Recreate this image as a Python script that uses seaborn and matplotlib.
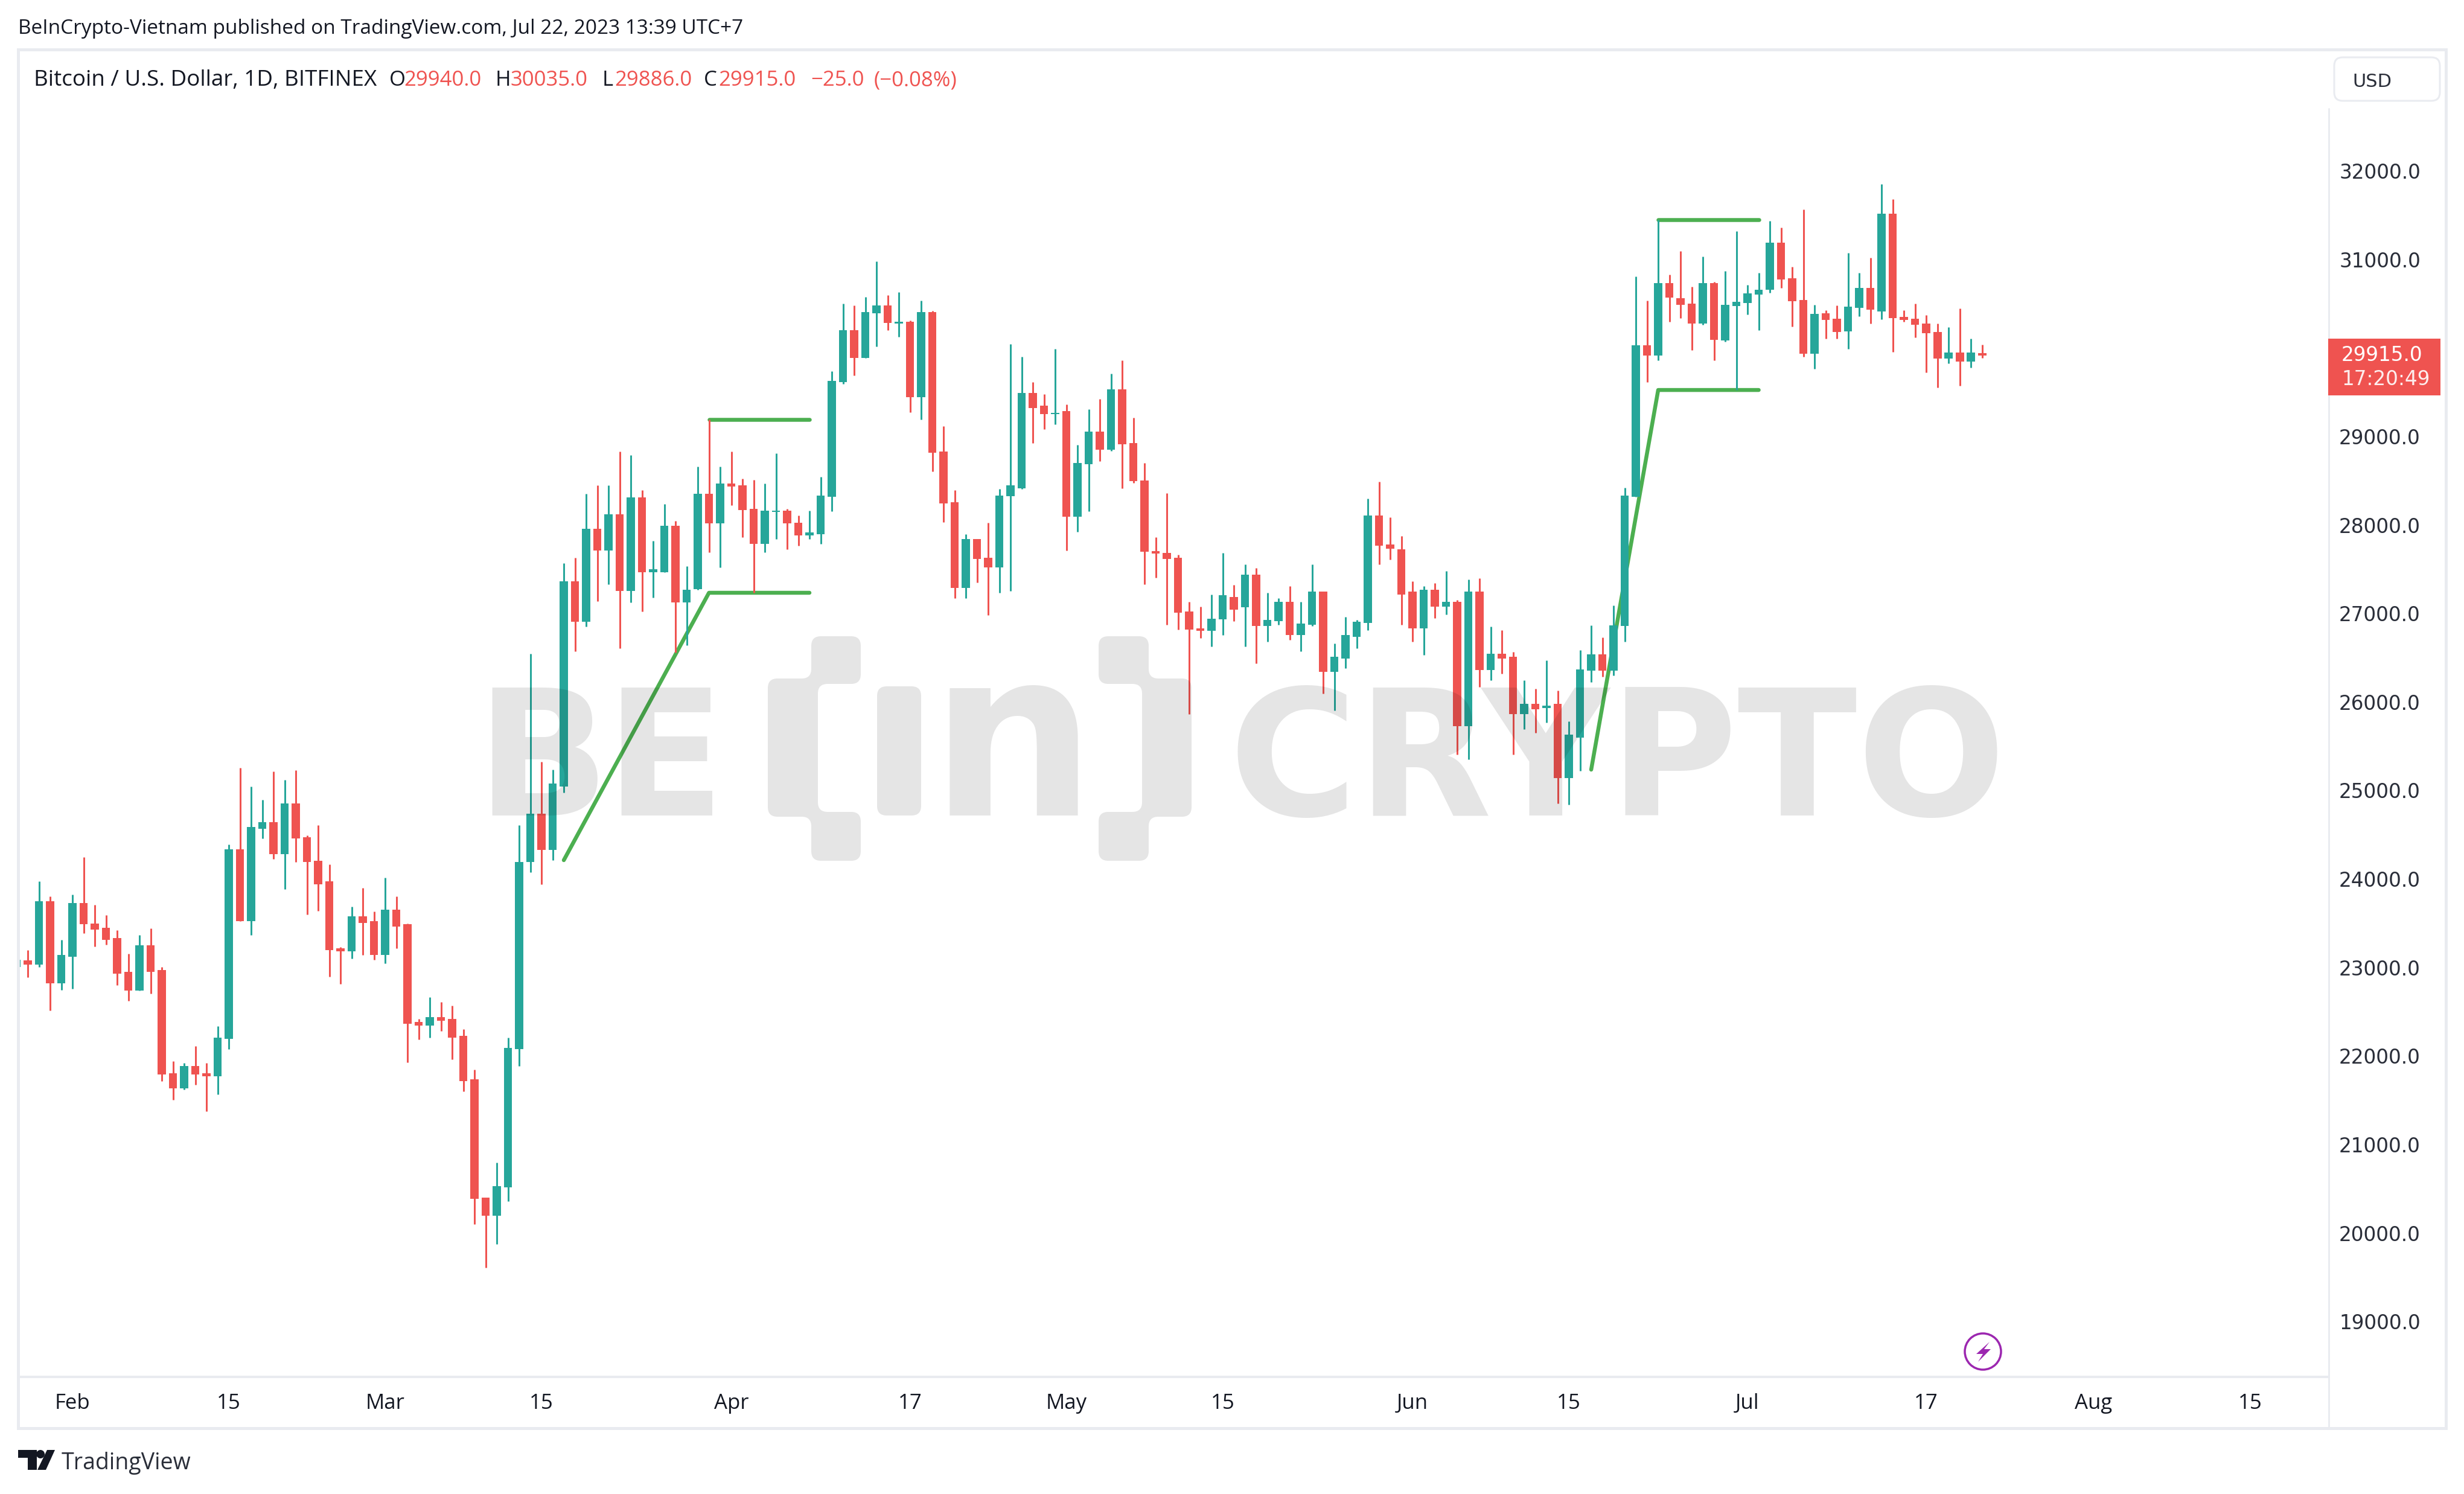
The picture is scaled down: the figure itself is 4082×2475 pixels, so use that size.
"""BTC/USD daily candles, TradingView layout, with the two pattern lines."""

import numpy as np
import pandas as pd
import matplotlib
matplotlib.use("Agg")
import matplotlib.pyplot as plt
from matplotlib.patches import Circle, FancyBboxPatch, PathPatch, Polygon, Rectangle
from matplotlib.path import Path
from matplotlib.transforms import Affine2D
import seaborn as sns

# ---------------------------------------------------------------------------
# Data
# ---------------------------------------------------------------------------

FIRST_DAY = "2023-01-27"

opens = [
    23007, 23081, 23029, 23747, 22820, 23120, 23725, 23499, 23446, 23329, 22951, 22742, 23251, 22968, 21807, 21637,
    21885, 21807, 21772, 22194, 24338, 23521, 24569, 24643, 24282, 24852, 24473, 24203, 23973, 23216, 23181, 23577,
    23521, 23142, 23651, 23486, 22381, 22346, 22437, 22416, 22229, 21733, 20402, 20193, 20515, 22076, 24190, 24738,
    24328, 25047, 27365, 26909, 27953, 27709, 28122, 27252, 28314, 27465, 27465, 27987, 27122, 27274, 28353, 28014,
    28466, 28448, 28179, 27783, 28144, 28161, 28027, 27879, 27896, 28318, 29610, 30197, 29884, 30393, 30480, 30275,
    30293, 29440, 30406, 28827, 28257, 27291, 27840, 27631, 27518, 28322, 28414, 29492, 29345, 29252, 29283, 28093,
    28684, 29052, 28848, 29530, 28923, 28504, 27705, 27686, 27627, 27020, 26832, 26801, 26930, 27188, 27067, 27439,
    26856, 26910, 27134, 26758, 26871, 27247, 26339, 26492, 26738, 26891, 28104, 27780, 27725, 27247, 26832, 27267,
    27079, 27134, 25728, 27247, 26358, 26546, 26507, 25861, 25975, 25932, 25975, 25138, 25597, 26353, 26535, 26353,
    26856, 28320, 30029, 29914, 30733, 30560, 30503, 30278, 30733, 30086, 30474, 30508, 30603, 30656, 31187, 30785,
    30541, 29933, 30393, 30331, 30187, 30450, 30675, 30412, 31513, 30350, 30331, 30278, 30177, 29881, 29948, 29842,
    29940,
]
highs = [
    23090, 23194, 23973, 23803, 23312, 23821, 24243, 23708, 23594, 23420, 23155, 23364, 23442, 23003, 21941, 21920,
    22111, 21920, 22337, 24390, 25252, 25043, 24891, 25213, 25117, 25230, 24491, 24604, 24164, 23233, 23690, 23899,
    23634, 24012, 23803, 23499, 22416, 22664, 22607, 22568, 22303, 21846, 20402, 20797, 22207, 24604, 26543, 25326,
    25235, 27570, 27626, 28353, 28448, 28448, 28827, 28788, 28392, 27818, 28235, 28044, 27531, 28657, 29188, 28657,
    28827, 28522, 28505, 28466, 28810, 28179, 28105, 28161, 28540, 29736, 30502, 30480, 30576, 30976, 30593, 30632,
    30310, 30536, 30419, 29114, 28392, 27896, 27840, 28027, 28409, 30045, 29897, 29610, 29475, 29991, 29361, 28903,
    29306, 29420, 29706, 29858, 29208, 28696, 27858, 28355, 27666, 27133, 27079, 27212, 27686, 27325, 27552, 27513,
    27231, 27173, 27306, 27134, 27552, 27247, 26660, 26961, 26926, 28296, 28488, 28085, 27877, 27361, 27306, 27345,
    27478, 27153, 27384, 27400, 26852, 26812, 26566, 26245, 26147, 26472, 26127, 25779, 26583, 26865, 26731, 27090,
    28421, 30804, 30536, 31450, 30824, 31092, 30690, 31034, 30747, 30867, 31321, 30713, 30847, 31431, 31360, 30919,
    31565, 30484, 30426, 30479, 31072, 30847, 31015, 31852, 31680, 30422, 30503, 30369, 30273, 30235, 30445, 30101,
    30035,
]
lows = [
    23000, 22890, 23007, 22511, 22746, 22759, 23390, 23238, 23255, 22798, 22624, 22742, 22703, 21715, 21506, 21619,
    21676, 21372, 21563, 22076, 23521, 23368, 24456, 24225, 23886, 24190, 23599, 23638, 22894, 22816, 23103, 23142,
    23085, 23046, 23216, 21924, 22189, 22207, 22285, 21963, 21598, 20097, 19606, 19871, 20362, 21889, 24073, 23942,
    24212, 24973, 26569, 26852, 27135, 27331, 26608, 27122, 27022, 27178, 27465, 26556, 26643, 27265, 27687, 27518,
    28222, 27861, 27230, 27687, 27840, 27726, 27766, 27840, 27783, 28153, 29593, 29688, 29884, 30014, 30202, 30128,
    29271, 29192, 28601, 28031, 27174, 27174, 27348, 26983, 27235, 27252, 28409, 28927, 29079, 29138, 27709, 27920,
    28151, 28719, 28837, 28414, 28476, 27329, 27404, 26875, 26817, 25861, 26719, 26625, 26758, 26910, 26625, 26433,
    26683, 26871, 26699, 26570, 26856, 26092, 25900, 26378, 26605, 26812, 27556, 27611, 26875, 26679, 26531, 26946,
    26985, 25407, 25348, 26167, 26245, 26319, 25407, 25693, 25654, 25767, 24855, 24841, 25219, 26224, 26282, 26301,
    26684, 28320, 29613, 29861, 30297, 30335, 29972, 30264, 29861, 30072, 29522, 30374, 30201, 30622, 30680, 30240,
    29900, 29766, 30101, 30106, 29991, 30354, 30278, 30321, 29952, 30297, 30120, 29723, 29550, 29823, 29570, 29780,
    29886,
]
closes = [
    23085, 23029, 23747, 22820, 23138, 23725, 23486, 23425, 23312, 22933, 22742, 23251, 22951, 21789, 21637, 21885,
    21789, 21772, 22207, 24338, 23521, 24586, 24643, 24282, 24852, 24456, 24190, 23942, 23199, 23181, 23577, 23503,
    23142, 23651, 23464, 22363, 22346, 22437, 22398, 22207, 21715, 20384, 20193, 20532, 22094, 24190, 24738, 24325,
    25078, 27365, 26909, 27953, 27709, 28122, 27252, 28314, 27465, 27496, 27987, 27122, 27265, 28353, 28014, 28466,
    28431, 28166, 27783, 28161, 28161, 28014, 27879, 27913, 28331, 29627, 30197, 29884, 30406, 30480, 30280, 30293,
    29440, 30406, 28814, 28240, 27291, 27840, 27613, 27518, 28331, 28448, 29492, 29323, 29249, 29267, 28093, 28696,
    29052, 28852, 29530, 28911, 28492, 27697, 27674, 27615, 27008, 26817, 26801, 26942, 27208, 27043, 27439, 26856,
    26926, 27134, 26758, 26883, 27247, 26339, 26507, 26754, 26906, 28104, 27764, 27729, 27212, 26832, 27267, 27079,
    27134, 25728, 27247, 26358, 26546, 26492, 25861, 25975, 25920, 25955, 25141, 25631, 26368, 26535, 26353, 26865,
    28330, 30029, 29914, 30733, 30565, 30488, 30278, 30733, 30091, 30484, 30517, 30618, 30656, 31187, 30776, 30527,
    29933, 30383, 30316, 30177, 30465, 30675, 30431, 31513, 30335, 30316, 30259, 30163, 29881, 29948, 29842, 29948,
    29915,
]

# pattern lines: flag pole + channel, twice
pole_1_dates = ["2023-03-17", "2023-03-30", "2023-04-08"]
pole_1_prices = [24212, 27233, 27233]
top_1_dates = ["2023-03-30", "2023-04-08"]
top_1_prices = [29190, 29190]
pole_2_dates = ["2023-06-17", "2023-06-23", "2023-07-02"]
pole_2_prices = [25235, 29524, 29524]
top_2_dates = ["2023-06-23", "2023-07-02"]
top_2_prices = [31451, 31451]

# 30000 sits under the last-price tag, so the scale shows no label there
price_ticks = [19000, 20000, 21000, 22000, 23000, 24000, 25000, 26000, 27000, 28000, 29000, 31000, 32000]
time_ticks = ["2023-02-01", "2023-02-15", "2023-03-01", "2023-03-15", "2023-04-01", "2023-04-17", "2023-05-01",
              "2023-05-15", "2023-06-01", "2023-06-15", "2023-07-01", "2023-07-17", "2023-08-01", "2023-08-15"]
time_labels = ["Feb", "15", "Mar", "15", "Apr", "17", "May", "15", "Jun", "15", "Jul", "17", "Aug", "15"]

# ---------------------------------------------------------------------------
# Style
# ---------------------------------------------------------------------------

W, H = 4082, 2475
DPI = 100
UP = "#26a69a"
DOWN = "#ef5350"
LINE = "#4caf50"
BORDER = "#e9ebf0"
INK = "#131722"
UI_FONT = "Open Sans"

sns.set_theme(style="white", rc={"figure.facecolor": "white", "axes.facecolor": "white"})
plt.rcParams["font.family"] = [UI_FONT, "DejaVu Sans"]


def pts(px):
    """Pixels at the output size to points."""
    return px * 72 / DPI


fig = plt.figure(figsize=(W / DPI, H / DPI), dpi=DPI)
px = Affine2D().scale(1, -1).translate(0, H)  # top-left pixel coords for the chart furniture

# chart pane: x 30..3858, y 82..2281
ax = fig.add_axes([30 / W, 1 - 2281 / H, (3858 - 30) / W, (2281 - 82) / H])

dates = pd.date_range(FIRST_DAY, periods=len(opens), freq="D")
df = pd.DataFrame({"date": dates, "open": opens, "high": highs, "low": lows, "close": closes})
df["up"] = df["close"] >= df["open"]
df["colour"] = np.where(df["up"], UP, DOWN)
df["top"] = df[["open", "close"]].max(axis=1)
df["bottom"] = df[["open", "close"]].min(axis=1)

# pattern lines go under the candles
for line_x, line_y in [(pole_1_dates, pole_1_prices), (top_1_dates, top_1_prices),
                       (pole_2_dates, pole_2_prices), (top_2_dates, top_2_prices)]:
    sns.lineplot(x=pd.to_datetime(line_x), y=line_y, sort=False, estimator=None, color=LINE,
                 linewidth=pts(6.5), solid_capstyle="round", solid_joinstyle="round", ax=ax, zorder=2)

ax.vlines(df["date"], df["low"], df["high"], colors=df["colour"], linewidth=pts(3), zorder=3)
ax.bar(df["date"], df["top"] - df["bottom"], bottom=df["bottom"], width=0.75, color=df["colour"],
       linewidth=0, zorder=4)

ax.set_xlim(pd.Timestamp("2023-02-01") - pd.Timedelta(days=4.865), pd.Timestamp("2023-02-01") + pd.Timedelta(days=202.05))
ax.set_ylim(18374, 33371)

ax.set_xticks(pd.to_datetime(time_ticks))
ax.set_xticklabels(time_labels, fontsize=25, color=INK, family=UI_FONT)
ax.yaxis.tick_right()
ax.set_yticks(price_ticks)
ax.set_yticklabels([f"{p:.1f}" for p in price_ticks], fontsize=23.5, color="#2a2e39", family="DejaVu Sans")
ax.tick_params(axis="x", length=0, pad=pts(27))
ax.tick_params(axis="y", length=0, pad=pts(17))
ax.set_xlabel("")
ax.set_ylabel("")
for spine in ax.spines.values():
    spine.set_visible(False)

# ---------------------------------------------------------------------------
# Frame, price scale furniture
# ---------------------------------------------------------------------------

fig.add_artist(Rectangle((30, 82), 4022, 2284, transform=px, fill=False, edgecolor=BORDER, linewidth=pts(5), zorder=6))
fig.add_artist(plt.Line2D([30, 3858], [2281, 2281], transform=px, color=BORDER, linewidth=pts(4), zorder=6))
fig.add_artist(plt.Line2D([3858, 3858], [180, 2366], transform=px, color=BORDER, linewidth=pts(3), zorder=6))

fig.add_artist(FancyBboxPatch((3875, 103), 159, 56, boxstyle="round,pad=8,rounding_size=14", transform=px,
                              facecolor="white", edgecolor=BORDER, linewidth=pts(3), zorder=6))
fig.text(3897, 135, "USD", transform=px, fontsize=22, color="#2a2e39", family="DejaVu Sans", va="center", zorder=7)

fig.add_artist(Rectangle((3857, 561), 186, 94, transform=px, facecolor=DOWN, edgecolor="none", zorder=6))
fig.text(3879, 588, "29915.0", transform=px, fontsize=23.5, color="white", family="DejaVu Sans", va="center", zorder=7)
fig.text(3879, 629, "17:20:49", transform=px, fontsize=23.5, color="white", family="DejaVu Sans", va="center", alpha=0.9, zorder=7)

# ---------------------------------------------------------------------------
# Header / legend / footer text
# ---------------------------------------------------------------------------

fig.text(30, 47, "BeInCrypto-Vietnam published on TradingView.com, Jul 22, 2023 13:39 UTC+7", transform=px,
         fontsize=24, color=INK, va="center", zorder=7)

legend_bits = [
    (56, "Bitcoin / U.S. Dollar, 1D, BITFINEX", INK, 26.5),
    (645, "O", INK, 25), (669, "29940.0", DOWN, 25),
    (821, "H", INK, 25), (845, "30035.0", DOWN, 25),
    (998, "L", INK, 25), (1018, "29886.0", DOWN, 25),
    (1166, "C", INK, 25), (1190, "29915.0", DOWN, 25),
    (1343, "\u221225.0", DOWN, 25), (1448, "(\u22120.08%)", DOWN, 25),
]
for bit_x, bit_text, bit_colour, bit_size in legend_bits:
    fig.text(bit_x, 133, bit_text, transform=px, fontsize=bit_size, color=bit_colour, va="center", zorder=7)

fig.text(102, 2424, "TradingView", transform=px, fontsize=27, color="#2a2e39", va="center", zorder=7)

# TV logo
fig.add_artist(Polygon([(30, 2402), (61, 2402), (61, 2435), (46, 2435), (46, 2415), (30, 2415)], transform=px,
                       facecolor=INK, edgecolor="none", zorder=7))
fig.add_artist(Circle((67, 2409), 7, transform=px, facecolor=INK, edgecolor="none", zorder=7))
fig.add_artist(Polygon([(78, 2402), (91, 2402), (76, 2435), (62, 2435)], transform=px,
                       facecolor=INK, edgecolor="none", zorder=7))

# lightning badge
fig.add_artist(Circle((3285, 2239), 30, transform=px, fill=False, edgecolor="#9c27b0", linewidth=pts(3.5), zorder=7))
fig.add_artist(Polygon([(3296, 2223), (3274, 2243), (3285, 2243), (3277, 2256), (3298, 2235), (3287, 2235)],
                       transform=px, facecolor="#9c27b0", edgecolor="none", zorder=7))

# ---------------------------------------------------------------------------
# Watermark, laid over everything so the candles darken under it
# ---------------------------------------------------------------------------

MARK = dict(color="black", alpha=0.1, transform=px, va="baseline", family="DejaVu Sans", fontweight="bold", zorder=5)
fig.text(788, 1351, "B", fontsize=209, **MARK)
fig.text(1002, 1351, "E", fontsize=209, **MARK)
fig.text(2036, 1351, "CRYPTO", fontsize=209, **MARK)
fig.text(1541, 1351, "n", fontsize=278, **MARK)


def rounded_shape(points, r=16):
    """Closed polygon in pixel coords with its corners rounded off."""
    verts, codes = [], []
    n = len(points)
    for i in range(n):
        prev_pt = np.array(points[i - 1], dtype=float)
        this_pt = np.array(points[i], dtype=float)
        next_pt = np.array(points[(i + 1) % n], dtype=float)
        entry = this_pt + (prev_pt - this_pt) / np.linalg.norm(prev_pt - this_pt) * r
        leave = this_pt + (next_pt - this_pt) / np.linalg.norm(next_pt - this_pt) * r
        verts += [entry, this_pt, leave]
        codes += [Path.MOVETO if i == 0 else Path.LINETO, Path.CURVE3, Path.CURVE3]
    verts.append(verts[0])
    codes.append(Path.CLOSEPOLY)
    return PathPatch(Path(verts, codes), transform=px, facecolor="black", edgecolor="none", alpha=0.1, zorder=5)


# the dotless i of the logo
fig.add_artist(rounded_shape([(1453, 1137), (1526, 1137), (1526, 1351), (1453, 1351)]))
# left bracket
fig.add_artist(rounded_shape([(1344, 1054), (1426, 1054), (1426, 1133), (1355, 1133), (1355, 1345), (1426, 1345),
                              (1426, 1426), (1344, 1426), (1344, 1353), (1272, 1353), (1272, 1124), (1344, 1124)]))
# right bracket
fig.add_artist(rounded_shape([(1820, 1054), (1903, 1054), (1903, 1124), (1974, 1124), (1974, 1353), (1903, 1353),
                              (1903, 1426), (1820, 1426), (1820, 1345), (1892, 1345), (1892, 1133), (1820, 1133)]))

fig.savefig("out.png", dpi=DPI, facecolor="white")
plt.close(fig)
